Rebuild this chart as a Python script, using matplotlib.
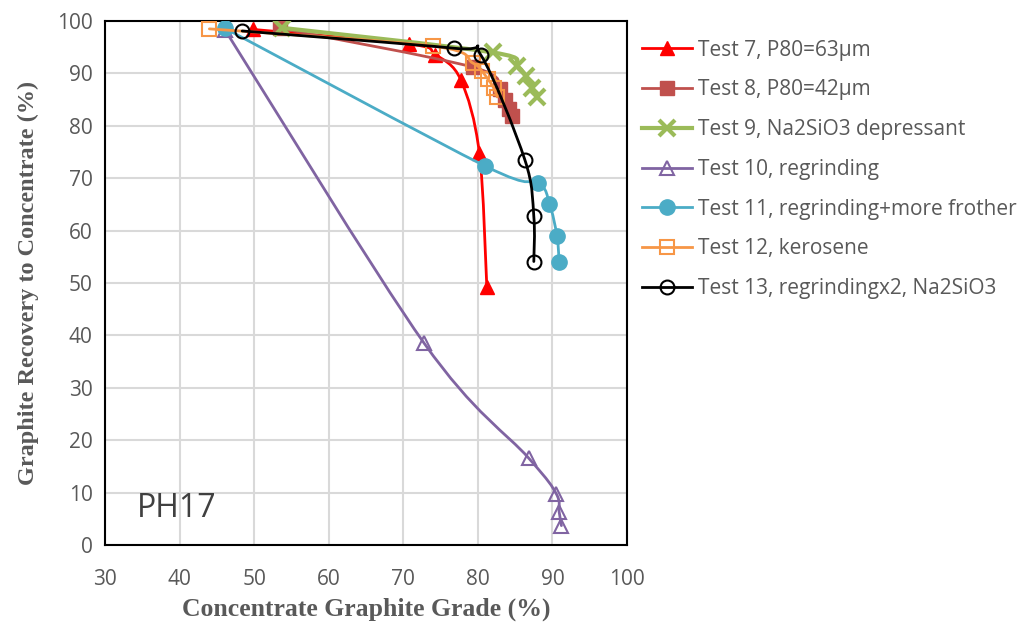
import numpy as np
import matplotlib
matplotlib.use("Agg")
import matplotlib.pyplot as plt
from matplotlib.path import Path
from matplotlib.patches import PathPatch
from matplotlib.lines import Line2D

# ---- data ----
labels = ["Test 7, P80=63\u00b5m", "Test 8, P80=42\u00b5m", "Test 9, Na2SiO3 depressant",
          "Test 10, regrinding", "Test 11, regrinding+more frother", "Test 12, kerosene",
          "Test 13, regrindingx2, Na2SiO3"]

t7_x = [49.8, 70.8, 74.3, 77.7, 80.2, 81.2]
t7_y = [98.4, 95.6, 93.6, 88.8, 74.8, 49.3]

t8_x = [53.5, 79.3, 83.0, 83.7, 84.2, 84.6]
t8_y = [98.6, 91.2, 87.0, 85.0, 83.3, 81.8]

t9_x = [53.7, 82.0, 85.2, 86.4, 87.3, 87.9]
t9_y = [98.7, 94.0, 91.5, 89.5, 87.3, 85.5]

t10_x = [46.1, 72.8, 86.8, 90.5, 90.9, 91.2]
t10_y = [98.3, 38.5, 16.6, 9.8, 6.3, 3.7]

t11_x = [46.1, 81.0, 88.0, 89.6, 90.6, 90.9]
t11_y = [98.6, 72.3, 69.1, 65.1, 59.0, 54.1]

t12_x = [44.0, 74.0, 79.3, 80.5, 81.3, 82.1, 82.6]
t12_y = [98.5, 95.2, 92.0, 90.5, 89.0, 87.3, 85.5]

t13_x = [48.4, 76.8, 80.4, 86.3, 87.5, 87.5]
t13_y = [98.1, 94.8, 93.5, 73.5, 62.7, 54.1]

x_ticks = [30, 40, 50, 60, 70, 80, 90, 100]
y_ticks = [0, 10, 20, 30, 40, 50, 60, 70, 80, 90, 100]

# ---- styles ----
styles = [
    dict(color="#FF0000", marker="^", mfc="#FF0000", mec="#FF0000", ms=10, mew=1),
    dict(color="#C0504D", marker="s", mfc="#C0504D", mec="#C0504D", ms=10, mew=1),
    dict(color="#9BBB59", marker="x", mfc="#9BBB59", mec="#9BBB59", ms=11, mew=3, lw=3),
    dict(color="#8064A2", marker="^", mfc="none", mec="#8064A2", ms=10, mew=1.5),
    dict(color="#4BACC6", marker="o", mfc="#4BACC6", mec="#4BACC6", ms=11, mew=1),
    dict(color="#F79646", marker="s", mfc="none", mec="#F79646", ms=10, mew=1.5),
    dict(color="#000000", marker="o", mfc="none", mec="#000000", ms=10, mew=1.5),
]
series = [(t7_x, t7_y), (t8_x, t8_y), (t9_x, t9_y), (t10_x, t10_y),
          (t11_x, t11_y), (t12_x, t12_y), (t13_x, t13_y)]

plt.rcParams['font.family'] = ['Open Sans', 'DejaVu Sans']

fig = plt.figure(figsize=(10.32, 6.27), dpi=100)
ax = fig.add_axes([0.1017, 0.1308, 0.5059, 0.8357])


def smooth_path(xs, ys):
    pts = np.column_stack([xs, ys]).astype(float)
    n = len(pts)
    verts = [pts[0]]
    codes = [Path.MOVETO]
    for i in range(n - 1):
        p0 = pts[i - 1] if i > 0 else pts[i]
        p1 = pts[i]
        p2 = pts[i + 1]
        p3 = pts[i + 2] if i + 2 < n else pts[i + 1]
        c1 = p1 + (p2 - p0) / 6.0
        c2 = p2 - (p3 - p1) / 6.0
        verts += [c1, c2, p2]
        codes += [Path.CURVE4] * 3
    return Path(verts, codes)


for k, ((xs, ys), st) in enumerate(zip(series, styles)):
    lw = st.get("lw", 2)
    patch = PathPatch(smooth_path(xs, ys), facecolor="none", edgecolor=st["color"],
                      lw=lw, zorder=3 + k, capstyle="round", joinstyle="round")
    ax.add_patch(patch)
    ax.plot(xs, ys, linestyle="none", marker=st["marker"], ms=st["ms"],
            mfc=st["mfc"], mec=st["mec"], mew=st["mew"], zorder=3 + k)

ax.set_xlim(30, 100)
ax.set_ylim(0, 100)
ax.set_xticks(x_ticks)
ax.set_yticks(y_ticks)
ax.grid(True, color="#D9D9D9", lw=1.5, zorder=0)
ax.set_axisbelow(True)
for sp in ax.spines.values():
    sp.set_color("black")
    sp.set_linewidth(1.5)
ax.tick_params(length=0, labelsize=15, labelcolor="#595959")
ax.tick_params(axis="x", pad=17)
ax.tick_params(axis="y", pad=9)

ax.set_xlabel("Concentrate Graphite Grade (%)", family="Liberation Serif", weight="bold",
              fontsize=18.5, color="#595959", labelpad=6)
ax.set_ylabel("Graphite Recovery to Concentrate (%)", family="Liberation Serif", weight="bold",
              fontsize=17.5, color="#595959", labelpad=13)

ax.text(34.3, 7, "PH17", fontsize=23, color="#404040", va="center", ha="left")

handles = []
for st in styles:
    handles.append(Line2D([], [], color=st["color"], lw=st.get("lw", 2), marker=st["marker"],
                          ms=st["ms"], mfc=st["mfc"], mec=st["mec"], mew=st["mew"]))
leg = fig.legend(handles, labels, loc="upper left", bbox_to_anchor=(0.6137, 0.95),
                 frameon=False, fontsize=15, handlelength=2.4, labelspacing=0.9,
                 handletextpad=0.3, borderaxespad=0)
for t in leg.get_texts():
    t.set_color("#595959")

fig.savefig("out.png", dpi=100)
